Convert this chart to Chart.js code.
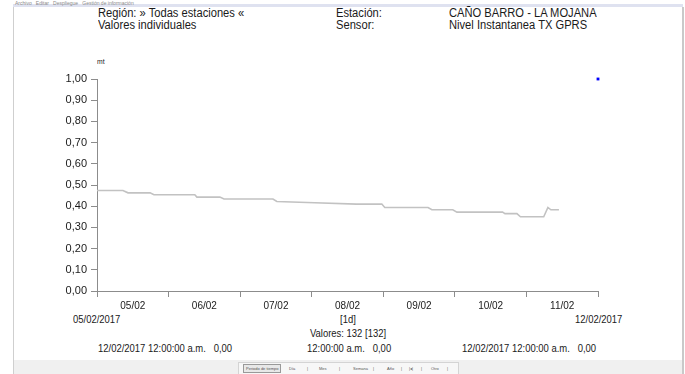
<!DOCTYPE html>
<html>
<head>
<meta charset="utf-8">
<script src="https://cdn.jsdelivr.net/npm/chart.js@4/dist/chart.umd.min.js"></script>
<style>
  html, body { margin: 0; padding: 0; background: #fff; }
  body { width: 685px; height: 374px; position: relative; overflow: hidden; font-family: Arial, "Liberation Sans", sans-serif; color: #1a1a1a; }
  .abs { position: absolute; white-space: pre; }
  #menu { left: 15px; top: 0px; font-size: 5px; color: #8a8a8a; }
  #band { left: 13px; top: 4px; width: 670px; height: 3px; background: #dfe2f0; }
  #panel { left: 13px; top: 7px; width: 668px; height: 367px; background: #fff; border-left: 1px solid #cfcfcf; border-right: 2px solid #c9c9c9; }
  #foot { left: 14px; top: 360px; width: 668px; height: 14px; background: #f0f0f0; }
  #tools { left: 238px; top: 362px; width: 219px; height: 11px; border: 1px solid #d4d4d4; background: #f7f7f7; font-size: 4px; color: #555; }
  #tools span { position: absolute; top: 3px; }
  .hd { font-size: 12px; transform: scaleX(0.93); transform-origin: left top; line-height: 12px; }
  .ft { font-size: 11px; transform: scaleX(0.86); line-height: 12px; }
  .ftl { transform-origin: left top; }
  .ftc { transform-origin: center top; }
  #chartBox { position: absolute; left: 0; top: 0; width: 685px; height: 374px; }
</style>
</head>
<body>
<div class="abs" id="band"></div>
<div class="abs" id="menu">Archivo   Editar   Despliegue   Gestión de información</div>
<div class="abs" id="panel"></div>
<div class="abs" id="foot"></div>
<div class="abs" id="tools">
  <span style="left:4px;top:1px;border:1px solid #999;padding:1px 2px;background:#e8e8e8">Periodo de tiempo</span>
  <span style="left:50px">Día</span><span style="left:68px">|</span>
  <span style="left:80px">Mes</span><span style="left:100px">|</span>
  <span style="left:114px">Semana</span><span style="left:134px">|</span>
  <span style="left:148px">Año</span><span style="left:162px">|</span>
  <span style="left:170px">|◂|</span><span style="left:182px">|</span>
  <span style="left:192px">Otro</span><span style="left:208px">|</span>
</div>

<div class="abs hd" style="left:98px;top:7px">Región: » Todas estaciones «</div>
<div class="abs hd" style="left:98px;top:19px">Valores individuales</div>
<div class="abs hd" style="left:336px;top:7px">Estación:</div>
<div class="abs hd" style="left:336px;top:19px">Sensor:</div>
<div class="abs hd" style="left:449px;top:7px">CAÑO BARRO - LA MOJANA</div>
<div class="abs hd" style="left:449px;top:19px">Nivel Instantanea TX GPRS</div>
<div class="abs" style="left:97px;top:57px;font-size:8px;transform:scaleX(0.85);transform-origin:left top">mt</div>

<div class="abs ft ftl" style="left:73px;top:313px">05/02/2017</div>
<div class="abs ft ftc" style="left:298px;width:100px;text-align:center;top:313px">[1d]</div>
<div class="abs ft ftl" style="left:575px;top:313px">12/02/2017</div>
<div class="abs ft ftc" style="left:268px;width:160px;text-align:center;top:327px">Valores: 132 [132]</div>
<div class="abs ft ftl" style="left:98px;top:342px">12/02/2017 12:00:00 a.m.   0,00</div>
<div class="abs ft ftl" style="left:307px;top:342px">12:00:00 a.m.   0,00</div>
<div class="abs ft ftl" style="left:462px;top:342px">12/02/2017 12:00:00 a.m.   0,00</div>

<div id="chartBox"><canvas id="nivel"></canvas></div>

<script>
// hours since 05/02/2017 00:00 and water level (mt)
var hours  = [0, 8.7, 10.4, 17.8, 19.1, 32.8, 33.5, 41.2, 42.6, 59, 60.3, 73, 87, 95.5,
              96.5, 111, 112.3, 119.3, 120.7, 136, 136.8, 140.8, 142, 149.8, 151.2, 152.2, 154.9];
var levels = [0.474, 0.474, 0.463, 0.463, 0.454, 0.454, 0.443, 0.443, 0.434, 0.434, 0.422, 0.416, 0.41, 0.41,
              0.394, 0.394, 0.383, 0.383, 0.372, 0.372, 0.365, 0.365, 0.35, 0.35, 0.394, 0.383, 0.383];
// isolated marker at top right
var markerHours = [168];
var markerLevels = [1.0];

var dayLabels = ["05/02", "06/02", "07/02", "08/02", "09/02", "10/02", "11/02"];

var axisGray = "#8c8c8c";

var linePts = hours.map(function (h, i) { return {x: h, y: levels[i]}; });
var markPts = markerHours.map(function (h, i) { return {x: h, y: markerLevels[i]}; });

new Chart("nivel", {
  type: "line",
  data: {
    datasets: [{
      data: linePts,
      borderColor: "#c2c2c2",
      borderWidth: 1.6,
      pointRadius: 0,
      fill: false,
      tension: 0
    }, {
      data: markPts,
      showLine: false,
      pointStyle: "rect",
      pointRadius: 2,
      pointBackgroundColor: "#0000ff",
      pointBorderWidth: 0,
      clip: false
    }]
  },
  options: {
    responsive: true,
    maintainAspectRatio: false,
    animation: false,
    layout: {padding: {top: 79, right: 87, left: 0, bottom: 0}},
    plugins: {legend: {display: false}, tooltip: {enabled: false}},
    scales: {
      x: {
        type: "linear",
        min: 0,
        max: 168,
        afterFit: function (s) { s.height = 83; },
        border: {color: axisGray, width: 1},
        grid: {drawOnChartArea: false, drawTicks: true, tickLength: 6, color: axisGray},
        ticks: {
          stepSize: 24,
          autoSkip: false,
          maxRotation: 0,
          labelOffset: 35.8,
          padding: 3,
          color: "#1a1a1a",
          font: {family: "Arial", size: 10},
          callback: function (v) { return dayLabels[v / 24] || ""; }
        }
      },
      y: {
        min: 0,
        max: 1,
        afterFit: function (s) { s.width = 97; },
        border: {color: axisGray, width: 1},
        grid: {drawOnChartArea: false, drawTicks: true, tickLength: 6, color: axisGray},
        ticks: {
          stepSize: 0.1,
          padding: 4,
          color: "#1a1a1a",
          font: {family: "Arial", size: 11},
          callback: function (v) { return v.toFixed(2).replace(".", ","); }
        }
      }
    }
  }
});
</script>
</body>
</html>
